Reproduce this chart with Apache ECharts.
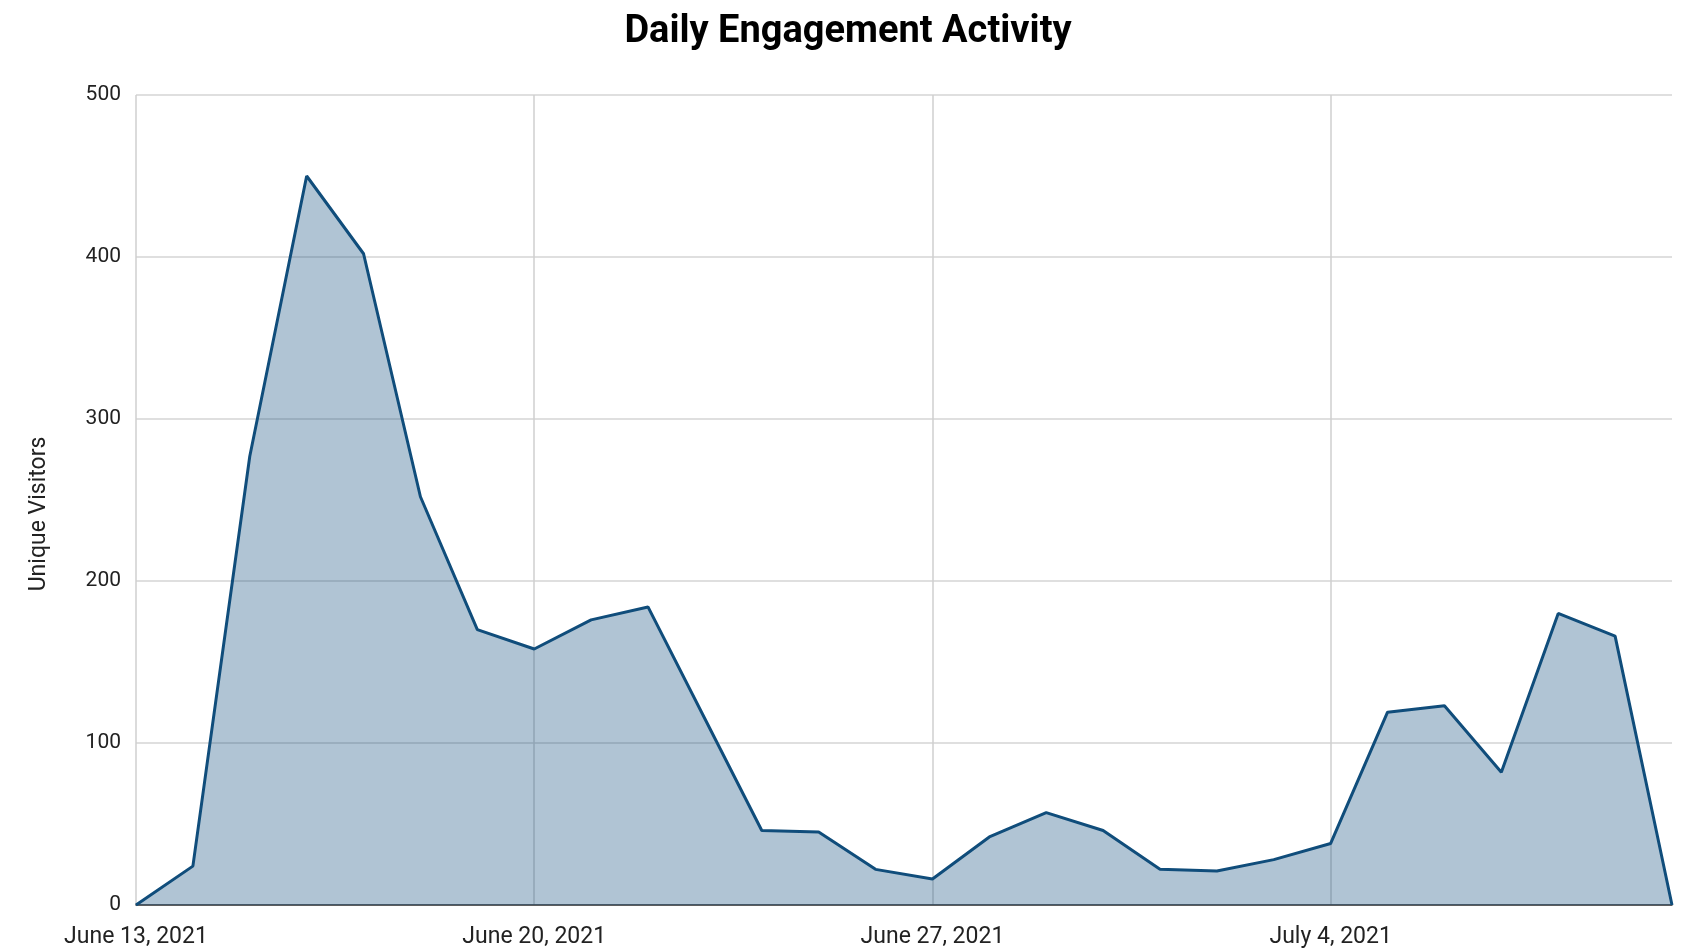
<!DOCTYPE html>
<html>
<head>
<meta charset="utf-8">
<title>Daily Engagement Activity</title>
<script src="https://cdn.jsdelivr.net/npm/echarts@6/dist/echarts.min.js"></script>
<style>
  html, body { margin: 0; padding: 0; background: #fff; }
  #chart { width: 1687px; height: 949px; }
</style>
</head>
<body>
<div id="chart"></div>
<script>
// one entry per day, June 13 - July 10, 2021
const days = [
  'June 13, 2021', 'June 14, 2021', 'June 15, 2021', 'June 16, 2021', 'June 17, 2021',
  'June 18, 2021', 'June 19, 2021', 'June 20, 2021', 'June 21, 2021', 'June 22, 2021',
  'June 23, 2021', 'June 24, 2021', 'June 25, 2021', 'June 26, 2021', 'June 27, 2021',
  'June 28, 2021', 'June 29, 2021', 'June 30, 2021', 'July 1, 2021', 'July 2, 2021',
  'July 3, 2021', 'July 4, 2021', 'July 5, 2021', 'July 6, 2021', 'July 7, 2021',
  'July 8, 2021', 'July 9, 2021', 'July 10, 2021'
];
const uniqueVisitors = [
  0, 24, 277, 450, 402, 252, 170, 158, 176, 184,
  115, 46, 45, 22, 16, 42, 57, 46, 22, 21,
  28, 38, 119, 123, 82, 180, 166, 0
];
const yTicks = [0, 100, 200, 300, 400, 500];

const lineColor = '#104d7b';
const font = 'Roboto, "Noto Sans", sans-serif';

const chart = echarts.init(document.getElementById('chart'));
chart.setOption({
  animation: false,
  title: {
    text: 'Daily Engagement Activity',
    left: 843,
    textAlign: 'center',
    top: 8,
    textStyle: { fontFamily: font, fontSize: 38, fontWeight: 'bold', color: '#000' }
  },
  grid: { left: 136, right: 15, top: 95, bottom: 40, containLabel: false },
  xAxis: {
    type: 'category',
    data: days,
    boundaryGap: false,
    axisLine: { show: true, lineStyle: { color: '#333', width: 1.5 } },
    axisTick: { show: false },
    axisLabel: {
      interval: 6,
      margin: 21,
      fontFamily: font,
      fontSize: 23,
      color: '#222'
    },
    splitLine: { show: true, interval: 6, lineStyle: { color: '#cfcfcf', width: 1.5 } }
  },
  yAxis: {
    type: 'value',
    min: yTicks[0],
    max: yTicks[yTicks.length - 1],
    interval: 100,
    name: 'Unique Visitors',
    nameLocation: 'middle',
    nameGap: 85,
    nameTextStyle: { fontFamily: font, fontSize: 23, color: '#222', padding: [0, 28, 0, 0] },
    axisLine: { show: false },
    axisTick: { show: false },
    axisLabel: { margin: 15, fontFamily: font, fontSize: 21, color: '#222' },
    splitLine: { show: true, lineStyle: { color: '#d4d4d4', width: 1.5 } }
  },
  series: [
    {
      name: 'Unique Visitors',
      type: 'line',
      data: uniqueVisitors,
      symbol: 'none',
      lineStyle: { color: lineColor, width: 3 },
      areaStyle: { color: lineColor, opacity: 0.33 }
    }
  ]
});
</script>
</body>
</html>
